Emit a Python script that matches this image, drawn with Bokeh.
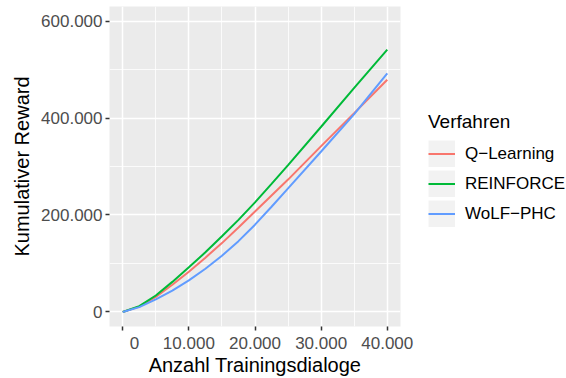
from bokeh.plotting import figure
from bokeh.layouts import row
from bokeh.models import Range1d, FixedTicker, Legend, LegendItem
from bokeh.embed import file_html
from bokeh.resources import INLINE

# ---- data ----
trainingsdialoge = [0, 2500, 5000, 7500, 10000, 12500, 15000, 17500, 20000,
                    22500, 25000, 30000, 35000, 40000]
q_learning = [0, 11000, 31000, 56000, 83000, 112000, 142000, 174000, 207000,
              240000, 273000, 342000, 410000, 479000]
reinforce = [0, 12000, 34000, 62000, 92000, 123000, 156000, 190000, 226000,
             264000, 303000, 382000, 462000, 541000]
wolf_phc = [0, 10000, 26000, 44000, 65000, 89000, 116000, 146000, 180000,
            217000, 255000, 331000, 408000, 492000]

verfahren = ["Q\u2212Learning", "REINFORCE", "WoLF\u2212PHC"]
farben = ["#F8766D", "#00BA38", "#619CFF"]

x_ticks = [0, 10000, 20000, 30000, 40000]
x_minor = [5000, 15000, 25000, 35000]
x_tick_labels = ["\u00a0" * 5 + "0", "10.000", "20.000", "30.000", "40.000"]
y_ticks = [0, 200000, 400000, 600000]
y_minor = [100000, 300000, 500000]
y_tick_labels = ["0", "200.000", "400.000", "600.000"]

FONT = "Liberation Sans"

p = figure(width=420, height=378, output_backend="svg", toolbar_location=None,
           title=None,
           x_range=Range1d(-2000, 42000), y_range=Range1d(-30000, 630000),
           min_border_left=109, min_border_right=20, min_border_top=6,
           min_border_bottom=52,
           background_fill_color="#EBEBEB", border_fill_color="white",
           outline_line_color=None)

p.xaxis.ticker = FixedTicker(ticks=x_ticks, minor_ticks=x_minor)
p.yaxis.ticker = FixedTicker(ticks=y_ticks, minor_ticks=y_minor)
p.xaxis.major_label_overrides = dict(zip(x_ticks, x_tick_labels))
p.yaxis.major_label_overrides = dict(zip(y_ticks, y_tick_labels))

for ax in (p.xaxis[0], p.yaxis[0]):
    ax.axis_line_color = None
    ax.major_tick_line_color = "#333333"
    ax.major_tick_line_width = 1.5
    ax.major_tick_out = 4
    ax.major_tick_in = 0
    ax.minor_tick_line_color = None
    ax.major_label_text_font = FONT
    ax.major_label_text_font_size = "17px"
    ax.major_label_text_color = "#4D4D4D"
    ax.axis_label_text_font = FONT
    ax.axis_label_text_font_size = "20px"
    ax.axis_label_text_font_style = "normal"
    ax.axis_label_text_color = "black"
    ax.major_label_standoff = 3

p.xaxis.axis_label = "Anzahl Trainingsdialoge"
p.yaxis.axis_label = "Kumulativer Reward"
p.xaxis.axis_label_standoff = -2
p.yaxis.axis_label_standoff = 5

for g in (p.xgrid[0], p.ygrid[0]):
    g.grid_line_color = "white"
    g.grid_line_width = 1.5
    g.minor_grid_line_color = "white"
    g.minor_grid_line_width = 0.8

series = [q_learning, reinforce, wolf_phc]
for col, ys in zip(farben, series):
    p.line(trainingsdialoge, ys, line_color=col, line_width=2)

# legend panel (separate svg figure to the right of the plot); its own view
# range excludes all data so only the legend keys are drawn
lg = figure(width=146, height=378, output_backend="svg", toolbar_location=None,
            title=None, x_range=Range1d(-2, -1), y_range=Range1d(-2, -1),
            x_axis_type=None, y_axis_type=None,
            min_border_left=0, min_border_right=0, min_border_top=0,
            min_border_bottom=0, background_fill_color="white",
            border_fill_color="white", outline_line_color=None)
lg.xgrid.visible = False
lg.ygrid.visible = False

items = []
for name, col, ys in zip(verfahren, farben, series):
    bg = lg.line(trainingsdialoge, ys, line_color="#F2F2F2", line_width=27)
    ln = lg.line(trainingsdialoge, ys, line_color=col, line_width=2)
    items.append(LegendItem(label=name, renderers=[bg, ln]))

legend = Legend(items=items, location=(8, 99), padding=0, margin=0,
                border_line_color=None, background_fill_alpha=0,
                glyph_width=27, glyph_height=27, spacing=3, label_standoff=10,
                label_text_font=FONT, label_text_font_size="17px",
                label_text_color="black",
                title="Verfahren", title_text_font=FONT,
                title_text_font_size="19px", title_text_font_style="normal",
                title_text_color="black", title_standoff=7)
lg.add_layout(legend)

layout = row(p, lg, spacing=0)
open("out.html", "w").write(file_html(layout, INLINE))
